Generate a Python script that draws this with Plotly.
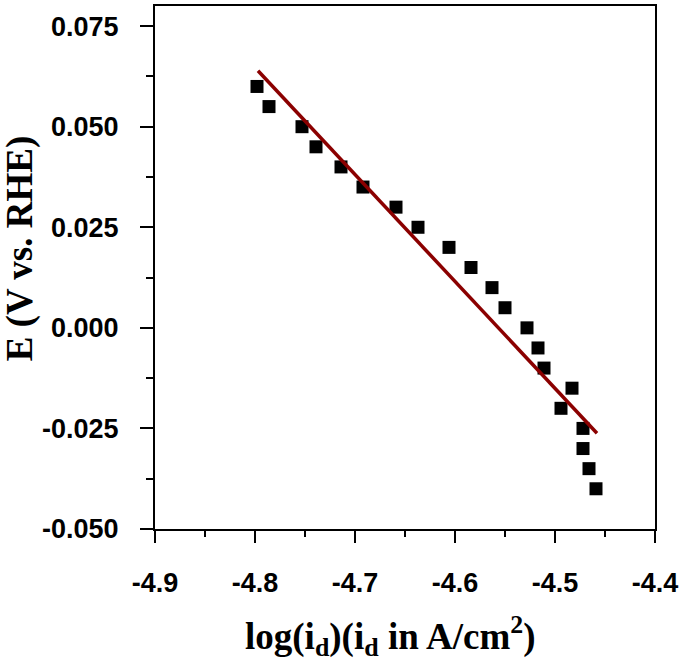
import plotly.graph_objects as go

# measured points (log current density vs potential)
log_id = [-4.798, -4.786, -4.753, -4.739, -4.714, -4.692, -4.659, -4.637,
          -4.606, -4.584, -4.563, -4.550, -4.528, -4.517, -4.511, -4.483,
          -4.494, -4.472, -4.472, -4.466, -4.459]
E_rhe = [0.060, 0.055, 0.050, 0.045, 0.040, 0.035, 0.030, 0.025,
         0.020, 0.015, 0.010, 0.005, 0.000, -0.005, -0.010, -0.015,
         -0.020, -0.025, -0.030, -0.035, -0.040]

# linear fit ends
fit_x = [-4.797, -4.458]
fit_y = [0.0639, -0.0262]

x_ticks = [-4.9, -4.8, -4.7, -4.6, -4.5, -4.4]
y_ticks = [-0.050, -0.025, 0.000, 0.025, 0.050, 0.075]
y_labels = ["-0.050", "-0.025", "0.000", "0.025", "0.050", "0.075"]

fig = go.Figure()
fig.add_trace(go.Scatter(x=log_id, y=E_rhe, mode="markers",
                         marker=dict(symbol="square", size=13, color="black"),
                         showlegend=False))
fig.add_trace(go.Scatter(x=fit_x, y=fit_y, mode="lines",
                         line=dict(color="#8b0000", width=3.5),
                         showlegend=False))

tickfont = dict(family="Liberation Sans, Arial", size=27, color="black", weight="bold")

fig.update_xaxes(range=[-4.9, -4.4], tickvals=x_ticks,
                 ticktext=[str(v) for v in x_ticks],
                 showline=True, linecolor="black", linewidth=2, mirror=True,
                 ticks="outside", ticklen=12, tickwidth=2, tickcolor="black",
                 minor=dict(dtick=0.05, ticks="outside", ticklen=6, tickwidth=2,
                            tickcolor="black", showgrid=False),
                 showgrid=False, zeroline=False, tickfont=tickfont,
                 ticklabelstandoff=17)
fig.update_yaxes(range=[-0.050, 0.080], tickvals=y_ticks, ticktext=y_labels,
                 showline=True, linecolor="black", linewidth=2, mirror=True,
                 ticks="outside", ticklen=13, tickwidth=2, tickcolor="black",
                 minor=dict(dtick=0.0125, tick0=0, ticks="outside", ticklen=7,
                            tickwidth=2, tickcolor="black", showgrid=False),
                 showgrid=False, zeroline=False, tickfont=tickfont,
                 ticklabelstandoff=16)

titlefont = dict(family="Liberation Serif, Times New Roman", size=37, color="black")
fig.add_annotation(text="<b>log(i<sub>d</sub>)(i<sub>d</sub> in A/cm<sup>2</sup>)</b>",
                   xref="paper", yref="paper", x=0.47, y=-0.204, yanchor="middle",
                   showarrow=False, font=titlefont)
fig.add_annotation(text="<b>E (V vs. RHE)</b>", textangle=-90,
                   xref="paper", yref="paper", x=-0.27, y=0.535, xanchor="center",
                   showarrow=False, font=titlefont)

fig.update_layout(width=685, height=670, plot_bgcolor="white", paper_bgcolor="white",
                  margin=dict(l=155, r=30, t=4, b=141))

fig.write_html("out.html", config={"displayModeBar": False},
               post_script="document.body.style.margin='0';")
